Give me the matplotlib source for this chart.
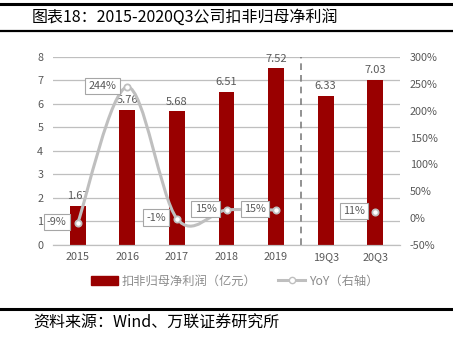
import matplotlib
matplotlib.use("Agg")
import matplotlib.pyplot as plt
from matplotlib.path import Path
from matplotlib.patches import PathPatch, Patch
from matplotlib.lines import Line2D

plt.rcParams['font.family'] = ['Noto Sans CJK SC', 'DejaVu Sans']

# data
categories = ["2015", "2016", "2017", "2018", "2019", "19Q3", "20Q3"]
profit = [1.67, 5.76, 5.68, 6.51, 7.52, 6.33, 7.03]      # 亿元
yoy_annual = [-9, 244, -1, 15, 15]                          # %, 2015-2019
yoy_q3 = [11]                                               # %, 20Q3

RED = "#990000"
GRAY = "#BFBFBF"
TXT = "#595959"

fig = plt.figure(figsize=(4.53, 3.45), dpi=100)
ax = fig.add_axes([0.117, 0.29, 0.766, 0.545])
ax2 = ax.twinx()

x = list(range(len(categories)))
ax.bar(x, profit, width=0.32, color=RED, zorder=2)
for xi, v in zip(x, profit):
    ax.text(xi, v + 0.2, f"{v:.2f}", ha="center", va="bottom", fontsize=8, color=TXT)

ax.set_xlim(-0.5, 6.5)
ax.set_ylim(0, 8)
ax.set_yticks(range(0, 9))
ax2.set_ylim(-50, 300)
ax2.set_yticks(range(-50, 301, 50))
ax2.set_yticklabels([f"{t}%" for t in range(-50, 301, 50)])
ax.set_xticks(x)
ax.set_xticklabels(categories)
ax.grid(axis="y", color=GRAY, lw=0.9, zorder=0)
ax.set_axisbelow(True)
for a in (ax, ax2):
    for s in ("top", "left", "right"):
        a.spines[s].set_visible(False)
    a.spines["bottom"].set_color(GRAY)
    a.tick_params(length=0, labelsize=7.8, labelcolor=TXT, pad=7)
ax.tick_params(axis="x", pad=5)

# separator between annual and quarterly
ax.axvline(4.5, color="#7F7F7F", lw=1.2, ls=(0, (4, 3)), zorder=1)

# smoothed YoY line (Excel-like), drawn on the right axis
pts = list(zip(x[:5], yoy_annual))
verts = [pts[0]]
codes = [Path.MOVETO]
n = len(pts)
for i in range(n - 1):
    p0 = pts[i - 1] if i > 0 else pts[i]
    p1, p2 = pts[i], pts[i + 1]
    p3 = pts[i + 2] if i + 2 < n else pts[i + 1]
    c1 = (p1[0] + (p2[0] - p0[0]) / 6, p1[1] + (p2[1] - p0[1]) / 6)
    c2 = (p2[0] - (p3[0] - p1[0]) / 6, p2[1] - (p3[1] - p1[1]) / 6)
    verts += [c1, c2, p2]
    codes += [Path.CURVE4] * 3
ax2.add_patch(PathPatch(Path(verts, codes), fill=False, edgecolor=GRAY, lw=2.2, zorder=3))
ax2.plot(x[:5], yoy_annual, ls="none", marker="o", ms=4.5, mfc="white", mec=GRAY, mew=1.3, zorder=4)
ax2.plot([x[6]], yoy_q3, ls="none", marker="o", ms=4.5, mfc="white", mec=GRAY, mew=1.3, zorder=4)

box = dict(boxstyle="square,pad=0.3", fc="white", ec="#A6A6A6", lw=0.8)
for xi, v in list(zip(x[:5], yoy_annual)) + [(x[6], yoy_q3[0])]:
    dx = -25 if v > 100 else -21
    ax2.annotate(f"{v}%", (xi, v), xytext=(dx, 1), textcoords="offset pixels",
                 ha="center", va="center", fontsize=7.8, color=TXT, bbox=box, zorder=5)

handles = [Patch(color=RED),
           Line2D([], [], color=GRAY, lw=2.2, marker="o", ms=4.5, mfc="white", mec=GRAY)]
fig.legend(handles, ["扣非归母净利润（亿元）", "YoY（右轴）"], loc="center",
           bbox_to_anchor=(0.518, 0.185), ncol=2, frameon=False, fontsize=8.8,
           labelcolor="#8C8C8C", handlelength=2.2, handletextpad=0.3, columnspacing=1.8)

# title and source with rules
fig.add_artist(Line2D([0, 1], [1 - 4 / 345] * 2, color="black", lw=2.2))
fig.add_artist(Line2D([0, 1], [1 - 31 / 345] * 2, color="black", lw=1.6))
fig.add_artist(Line2D([0, 1], [1 - 309 / 345] * 2, color="black", lw=2.2))
fig.text(32 / 453, 1 - 17.5 / 345, "图表18：2015-2020Q3公司扣非归母净利润", fontsize=11.5,
         va="center", ha="left", color="black", fontweight="medium")
fig.text(33 / 453, 1 - 323 / 345, "资料来源：Wind、万联证券研究所", fontsize=11.5,
         va="center", ha="left", color="black", style="italic")

fig.savefig("out.png", dpi=100)
